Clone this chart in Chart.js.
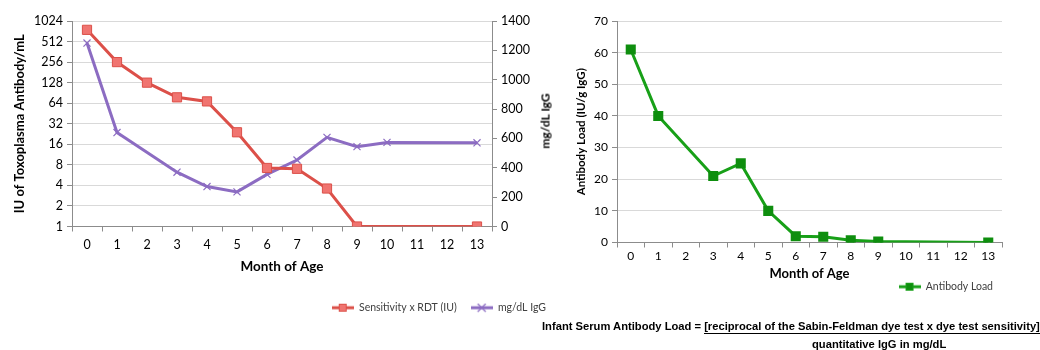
<!DOCTYPE html>
<html>
<head>
<meta charset="utf-8">
<script src="https://cdn.jsdelivr.net/npm/chart.js@4.4.1/dist/chart.umd.min.js"></script>
<style>
  body { margin: 0; background: #fff; width: 1040px; height: 350px; overflow: hidden; position: relative; font-family: Lato, sans-serif; }
  #leftBox { position: absolute; left: 0; top: 0; width: 560px; height: 323px; }
  #rightBox { position: absolute; left: 560px; top: 0; width: 450px; height: 302px; }
  .iggTitle { position: absolute; left: 545px; top: 121px; transform: translate(-50%, -50%) rotate(-90deg); font: bold 12px Lato, sans-serif; color: #000; white-space: nowrap; }
  .formula { position: absolute; left: 542px; top: 320px; font: bold 11.2px "Liberation Sans", Arial, sans-serif; color: #000; white-space: nowrap; }
  .formula u { text-decoration: none; border-bottom: 1.5px solid #000; padding-bottom: 1px; }
  .denom { position: absolute; left: 812px; top: 338px; font: bold 11.2px "Liberation Sans", Arial, sans-serif; color: #000; white-space: nowrap; }
</style>
</head>
<body>
<div id="leftBox"><canvas id="left"></canvas></div>
<div id="rightBox"><canvas id="right"></canvas></div>
<div class="iggTitle">mg/dL IgG</div>
<div class="formula">Infant Serum Antibody Load = <u>[reciprocal of the Sabin-Feldman dye test x dye test sensitivity]</u></div>
<div class="denom">quantitative IgG in mg/dL</div>

<script>
// month of age categories (0..13)
const months = ['0', '1', '2', '3', '4', '5', '6', '7', '8', '9', '10', '11', '12', '13'];

// left chart: IU of Toxoplasma antibody (log2 axis) and IgG (right axis)
const sensitivityRdt = [760, 256, 128, 78, 68, 24, 7.2, 7, 3.6, 1, null, null, null, 1];
const iggMgDl = [1250, 640, null, 370, 272, 236, 355, 453, 607, 544, 573, null, null, 570];
const log2Ticks = [1, 2, 4, 8, 16, 32, 64, 128, 256, 512, 1024];

// right chart: antibody load (IU/g IgG)
const antibodyLoad = [61, 40, null, 21, 25, 10, 2, 1.8, 0.7, 0.3, null, null, null, 0];

const RED = '#DC5049', RED_FILL = '#F07470', PURPLE = '#8C6CC2', GREEN = '#18A018';
const AXIS = '#8C8C8C', GRID = '#D9D9D9';

Chart.defaults.font.family = 'Lato, sans-serif';
Chart.defaults.color = '#000';

// little "line + marker" images for the legend, Excel style
function legendMark(color, fill, kind) {
  const c = document.createElement('canvas');
  c.width = 22; c.height = 10;
  const g = c.getContext('2d');
  g.strokeStyle = color; g.lineWidth = 3;
  g.beginPath(); g.moveTo(0, 5); g.lineTo(22, 5); g.stroke();
  if (kind === 'rect') {
    g.fillStyle = fill; g.fillRect(7, 1, 8, 8);
    g.lineWidth = 1; g.strokeRect(7.5, 1.5, 7, 7);
  } else {
    g.lineWidth = 1.2;
    g.beginPath(); g.moveTo(7, 1); g.lineTo(15, 9); g.moveTo(15, 1); g.lineTo(7, 9); g.stroke();
  }
  return c;
}

function legendOpts(marks) {
  return {
    position: 'bottom',
    align: 'end',
    labels: {
      usePointStyle: true,
      pointStyleWidth: 22,
      padding: 14,
      color: '#404040',
      font: { size: 10.5 },
      generateLabels(chart) {
        const items = Chart.defaults.plugins.legend.labels.generateLabels(chart);
        items.forEach((it, i) => { it.pointStyle = marks[i]; });
        return items;
      }
    }
  };
}

new Chart(document.getElementById('left'), {
  type: 'line',
  data: {
    labels: months,
    datasets: [
      {
        label: 'Sensitivity x RDT (IU)',
        data: sensitivityRdt,
        yAxisID: 'y',
        borderColor: RED,
        backgroundColor: RED_FILL,
        borderWidth: 3,
        pointStyle: 'rect',
        pointRadius: 6.5,
        pointBorderColor: RED,
        pointBackgroundColor: RED_FILL,
        pointBorderWidth: 1,
        spanGaps: true,
        tension: 0
      },
      {
        label: 'mg/dL IgG',
        data: iggMgDl,
        yAxisID: 'y1',
        borderColor: PURPLE,
        backgroundColor: PURPLE,
        borderWidth: 3,
        pointStyle: 'crossRot',
        pointRadius: 5,
        pointBorderWidth: 1.2,
        spanGaps: true,
        tension: 0
      }
    ]
  },
  options: {
    responsive: true,
    maintainAspectRatio: false,
    animation: false,
    devicePixelRatio: 1,
    layout: { padding: { top: 21, left: 0, right: 0 } },
    plugins: { legend: legendOpts([legendMark(RED, RED_FILL, 'rect'), legendMark(PURPLE, PURPLE, 'x')]), tooltip: { enabled: false } },
    scales: {
      x: {
        offset: true,
        grid: { offset: true, drawOnChartArea: false, tickLength: 5, color: AXIS },
        border: { color: AXIS },
        ticks: { font: { size: 12.5 }, padding: 6, maxRotation: 0, autoSkip: false },
        title: { display: true, text: 'Month of Age', font: { size: 13.5, weight: 'bold', lineHeight: 1 }, padding: { top: 0, bottom: 15 } },
        afterFit(s) { s.height = 62; }
      },
      y: {
        type: 'logarithmic',
        position: 'left',
        min: 1,
        max: 1024,
        afterBuildTicks(s) { s.ticks = log2Ticks.map(v => ({ value: v })); },
        ticks: { font: { size: 12.5 }, padding: 4, autoSkip: false, callback: v => String(v) },
        grid: { color: GRID, tickColor: AXIS, tickLength: 5 },
        border: { color: AXIS },
        title: { display: true, text: 'IU of Toxoplasma Antibody/mL', font: { size: 13, weight: 'bold' }, padding: { top: 12, bottom: 2 } },
        afterFit(s) { s.width = 72; }
      },
      y1: {
        position: 'right',
        min: 0,
        max: 1400,
        ticks: { stepSize: 200, font: { size: 12.5 }, padding: 4, callback: v => String(v) },
        grid: { drawOnChartArea: false, tickColor: AXIS, tickLength: 5 },
        border: { color: AXIS },
        afterFit(s) { s.width = 68; }
      }
    }
  }
});

new Chart(document.getElementById('right'), {
  type: 'line',
  data: {
    labels: months,
    datasets: [
      {
        label: 'Antibody Load',
        data: antibodyLoad,
        borderColor: GREEN,
        backgroundColor: GREEN,
        borderWidth: 3,
        pointStyle: 'rect',
        pointRadius: 5,
        pointBorderColor: '#0E8E0E',
        pointBackgroundColor: '#0E8E0E',
        spanGaps: true,
        tension: 0
      }
    ]
  },
  options: {
    responsive: true,
    maintainAspectRatio: false,
    animation: false,
    devicePixelRatio: 1,
    layout: { padding: { top: 21, left: 0, right: 3 } },
    plugins: { legend: legendOpts([legendMark(GREEN, '#0E8E0E', 'rect')]), tooltip: { enabled: false } },
    scales: {
      x: {
        offset: true,
        grid: { offset: true, drawOnChartArea: false, tickLength: 5, color: AXIS },
        border: { color: AXIS },
        ticks: { font: { size: 12 }, padding: 1.5, maxRotation: 0, autoSkip: false },
        // title sits a little lower than the axis box, over the legend's top padding
        title: { display: true, text: 'Month of Age', font: { size: 13, weight: 'bold', lineHeight: 1 }, padding: { top: 0, bottom: -13 } },
        afterFit(s) { s.height = 25; }
      },
      y: {
        min: 0,
        max: 70,
        ticks: { stepSize: 10, font: { size: 12 }, padding: 4 },
        grid: { color: GRID, tickColor: AXIS, tickLength: 5 },
        border: { color: AXIS },
        title: { display: true, text: 'Antibody Load (IU/g IgG)', font: { size: 11.5, weight: 'bold' }, padding: { top: 14, bottom: 2 } },
        afterFit(s) { s.width = 57; }
      }
    }
  }
});
</script>
</body>
</html>
